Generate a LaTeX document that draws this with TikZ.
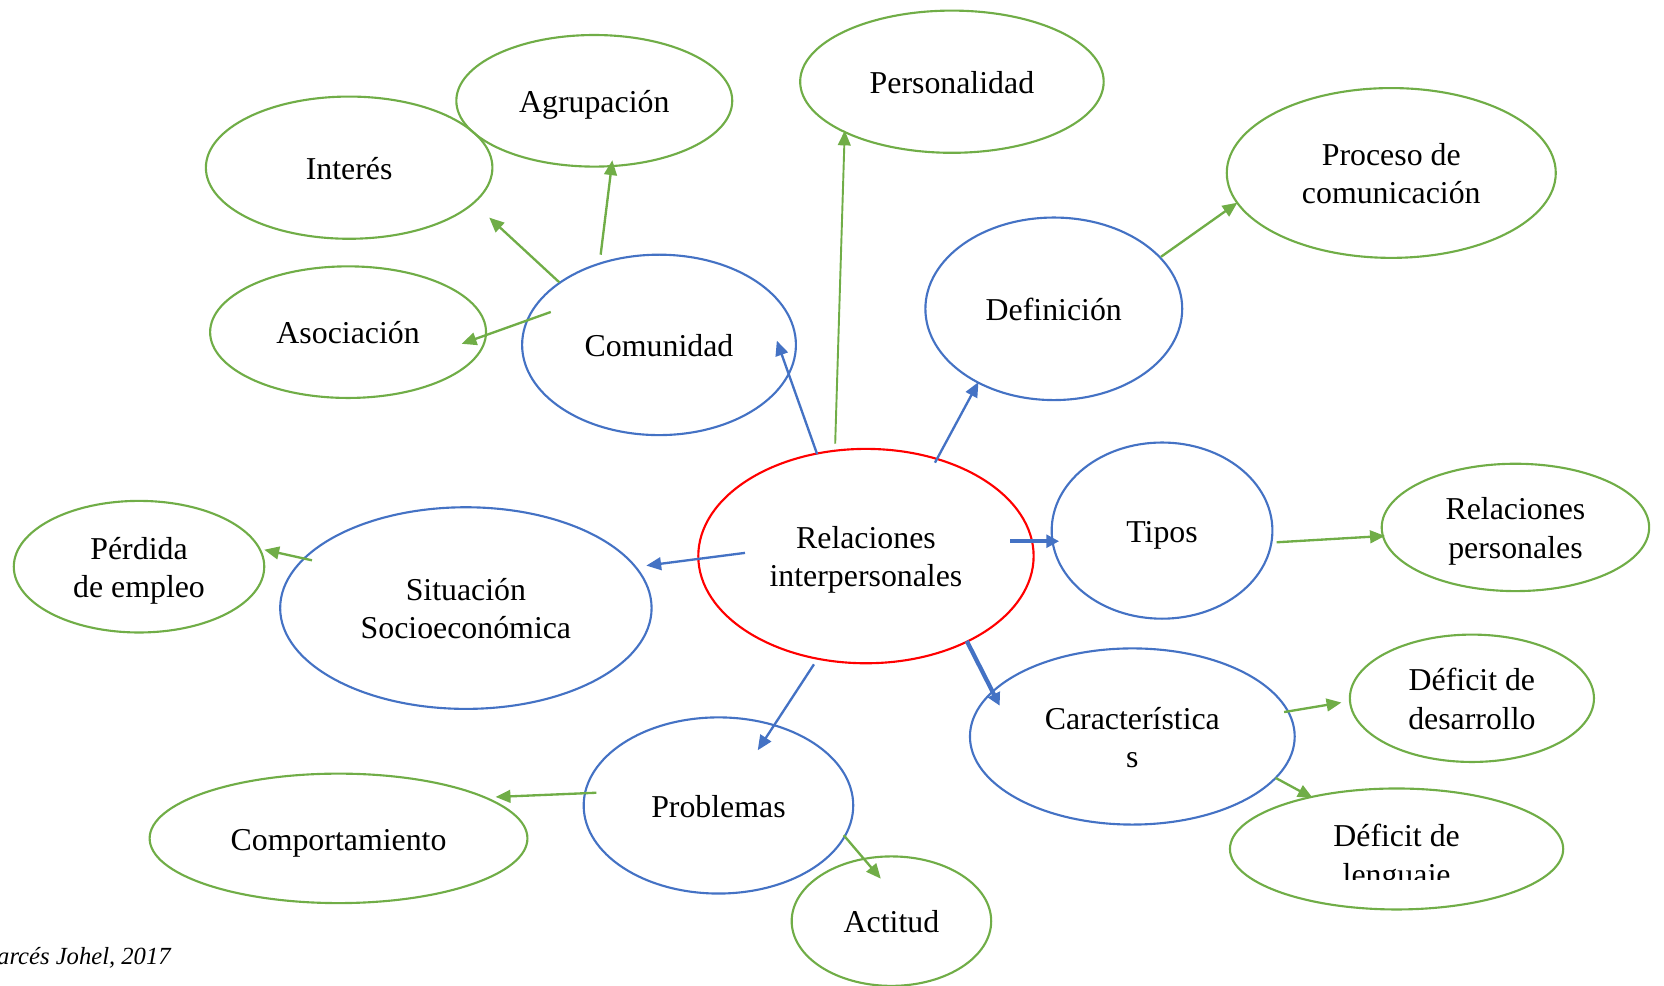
\documentclass[tikz,border=0pt]{standalone}
\usepackage{fontspec}
\setmainfont{Liberation Serif}
\usetikzlibrary{shapes.geometric,arrows.meta}
\definecolor{gr}{HTML}{70AD47}
\definecolor{bl}{HTML}{4472C4}
\definecolor{rd}{HTML}{FF0000}
\begin{document}
\begin{tikzpicture}[x=0.5pt,y=-0.5pt,
  el/.style={ellipse, draw, line width=1pt, inner sep=0pt, align=center,
    font=\fontsize{15}{18}\selectfont, text height=14pt, text depth=3pt},
  twolines/.style={text height=32pt},
  gel/.style={el, draw=gr},
  bel/.style={el, draw=bl},
  rel/.style={el, draw=rd},
  garr/.style={draw=gr, line width=1.1pt, -{Triangle[length=7pt,width=6pt]}},
  barr/.style={draw=bl, line width=1.1pt, -{Triangle[length=7pt,width=6pt]}},
  bthick/.style={draw=bl, line width=2pt, -{Triangle[length=6pt,width=6pt]}}
  ]
\useasboundingbox (0,0) rectangle (1568,929);

% nodes
\node[rel, twolines, minimum width=158pt, minimum height=101pt] (rel) at (816,524) {Relaciones\\interpersonales};
\node[bel, minimum width=129pt, minimum height=85pt] (com) at (621,325) {Comunidad};
\node[gel, minimum width=130pt, minimum height=62pt] (agr) at (560,95) {Agrupación};
\node[gel, minimum width=135pt, minimum height=67pt] (int) at (329,158) {Interés};
\node[gel, minimum width=130pt, minimum height=62pt] (aso) at (328,313) {Asociación};
\node[gel, minimum width=143pt, minimum height=67pt] (per) at (897,77) {Personalidad};
\node[gel, twolines, minimum width=155pt, minimum height=80pt] (pro) at (1311,163) {Proceso de\\comunicación};
\node[bel, minimum width=121pt, minimum height=86pt] (def) at (993,291) {Definición};
\node[bel, minimum width=104pt, minimum height=83pt] (tip) at (1095,500) {Tipos};
\node[gel, twolines, minimum width=126pt, minimum height=60pt] (rp) at (1428,497) {Relaciones\\personales};
\node[bel, twolines, minimum width=175pt, minimum height=95pt] (sit) at (439,573) {Situación\\Socioeconómica};
\node[gel, twolines, minimum width=118pt, minimum height=62pt] (perd) at (131,534) {Pérdida\\de empleo};
\node[bel, twolines, minimum width=153pt, minimum height=83pt] (car) at (1067,694) {Característica\\s};
\node[gel, twolines, minimum width=115pt, minimum height=60pt] (dd) at (1387,658) {Déficit de\\desarrollo};
\node[gel, minimum width=157pt, minimum height=57pt] (dl) at (1316,800) {};
\begin{scope}
  \clip (1150,700) rectangle (1480,829);
  \node[align=center, inner sep=0pt, font=\fontsize{15}{18}\selectfont, text height=32pt, text depth=3pt] (dltext) at (1316,805) {Déficit de\\lenguaje};
\end{scope}
\node[bel, minimum width=127pt, minimum height=83pt] (prob) at (677,759) {Problemas};
\node[gel, minimum width=178pt, minimum height=61pt] (comp) at (319,790) {Comportamiento};
\node[gel, minimum width=94pt, minimum height=61pt] (act) at (840,868) {Actitud};
\node[anchor=base west, inner sep=0pt, font=\fontsize{11.6}{13}\selectfont\itshape] (src) at (-3,909) {arcés Johel, 2017};

% connector end points
\coordinate (g1s) at (527,266); \coordinate (g1e) at (461,205);
\coordinate (g2s) at (566,240); \coordinate (g2e) at (577,151);
\coordinate (g3s) at (519,294); \coordinate (g3e) at (435,324);
\coordinate (g4s) at (787,418); \coordinate (g4e) at (796,123);
\coordinate (g5s) at (1094,242); \coordinate (g5e) at (1166,191);
\coordinate (g6s) at (1203,511); \coordinate (g6e) at (1305,505);
\coordinate (g7s) at (294,528); \coordinate (g7e) at (249,518);
\coordinate (g8s) at (562,747); \coordinate (g8e) at (467,751);
\coordinate (g9s) at (795,787); \coordinate (g9e) at (830,828);
\coordinate (g10s) at (1210,671); \coordinate (g10e) at (1264,662);
\coordinate (g11s) at (1202,733); \coordinate (g11e) at (1237,752);
\coordinate (b1s) at (770,428); \coordinate (b1e) at (732,321);
\coordinate (b2s) at (881,436); \coordinate (b2e) at (922,360);
\coordinate (b3s) at (952,510); \coordinate (b3e) at (998,510);
\coordinate (b4s) at (702,521); \coordinate (b4e) at (609,533);
\coordinate (b5s) at (767,626); \coordinate (b5e) at (714,707);
\coordinate (b6s) at (911,604); \coordinate (b6e) at (942,665);

% green connectors
\draw[garr] (g1s) -- (g1e);
\draw[garr] (g2s) -- (g2e);
\draw[garr] (g3s) -- (g3e);
\draw[garr, line width=0.9pt] (g4s) -- (g4e);
\draw[garr] (g5s) -- (g5e);
\draw[garr] (g6s) -- (g6e);
\draw[garr] (g7s) -- (g7e);
\draw[garr] (g8s) -- (g8e);
\draw[garr] (g9s) -- (g9e);
\draw[garr] (g10s) -- (g10e);
\draw[garr] (g11s) -- (g11e);
% blue connectors
\draw[barr] (b1s) -- (b1e);
\draw[barr] (b2s) -- (b2e);
\draw[bthick] (b3s) -- (b3e);
\draw[barr] (b4s) -- (b4e);
\draw[barr] (b5s) -- (b5e);
\draw[bthick] (b6s) -- (b6e);
\end{tikzpicture}
\end{document}
